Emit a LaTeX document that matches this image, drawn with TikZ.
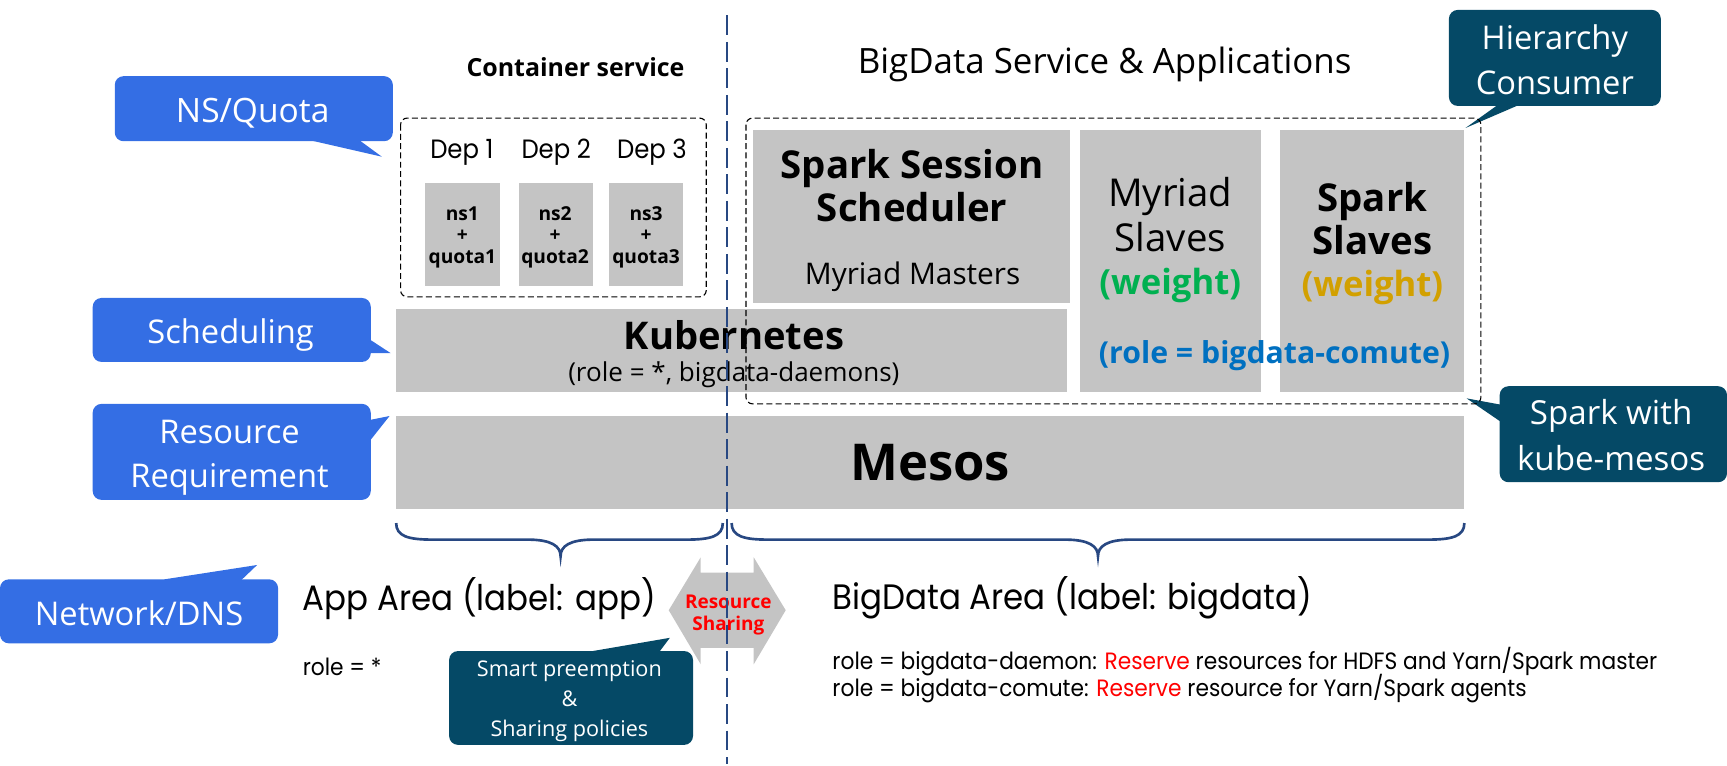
\documentclass[tikz,border=0pt]{standalone}
\usepackage{fontspec}
\setmainfont{Open Sans}
\newfontfamily\gothic{Poppins}[FakeStretch=0.92]
\definecolor{cblue}{RGB}{52,110,228}
\definecolor{cteal}{RGB}{5,73,102}
\definecolor{cgray}{RGB}{196,196,196}
\definecolor{cgreen}{RGB}{0,176,80}
\definecolor{cgold}{RGB}{210,160,0}
\definecolor{ctxtblue}{RGB}{0,112,192}
\definecolor{cnavy}{RGB}{40,72,130}
\newcommand\myfs[1]{\fontsize{#1}{#1}\selectfont}
\tikzset{
  graybox/.style={fill=cgray},
  dashbox/.style={draw=black, line width=0.5pt, dash pattern=on 2.7pt off 1.5pt, rounded corners=3pt},
  callA/.style={fill=cblue},
  callB/.style={fill=cteal},
  ctext/.style={text=white, inner sep=0pt, anchor=base},
  txt/.style={inner sep=0pt, anchor=base},
  ltxt/.style={inner sep=0pt, anchor=base west},
  divider/.style={draw=cnavy, line width=0.9pt, dash pattern=on 9pt off 3pt},
  bracepath/.style={draw=cnavy, line width=1.2pt},
}
\begin{document}
\begin{tikzpicture}[x=0.5pt,y=-0.5pt]
\useasboundingbox (0,0) rectangle (1565,694);

% ---------- callouts ----------
% NS/Quota
\fill[callA, rounded corners=4pt] (104,69) rectangle (356,128);
\fill[callA] (250,120) -- (346,142) -- (316,120) -- cycle;
\node[ctext, font=\myfs{15.2}] (nsq) at (229,111) {NS/Quota};
% Scheduling
\fill[callA, rounded corners=4pt] (84,270) rectangle (336,328);
\fill[callA] (328,303) -- (354,320) -- (328,320) -- cycle;
\node[ctext, font=\myfs{14.8}] (sched) at (209,311) {Scheduling};
% Resource Requirement
\fill[callA, rounded corners=4pt] (84,366) rectangle (336,453);
\fill[callA] (328,382) -- (353,377) -- (334,401) -- (328,401) -- cycle;
\node[ctext, font=\myfs{14.8}] (rr1) at (208,401.7) {Resource};
\node[ctext, font=\myfs{14.8}] (rr2) at (208,442) {Requirement};
% Network/DNS
\fill[callA, rounded corners=4pt] (0,525) rectangle (252,583);
\fill[callA] (149,533) -- (149,525) -- (233,512) -- (211,533) -- cycle;
\node[ctext, font=\myfs{14.8}] (net) at (126,566.5) {Network/DNS};
% Hierarchy Consumer
\fill[callB, rounded corners=4pt] (1313,9) rectangle (1505,96);
\fill[callB] (1356,88) -- (1356,96) -- (1328,116) -- (1393,88) -- cycle;
\node[ctext, font=\myfs{14.8}] (hc1) at (1409,45) {Hierarchy};
\node[ctext, font=\myfs{14.8}] (hc2) at (1409,86) {Consumer};
% Spark with kube-mesos
\fill[callB, rounded corners=4pt] (1359,350) rectangle (1565,437);
\fill[callB] (1367,368) -- (1329,361) -- (1367,387) -- cycle;
\node[ctext, font=\myfs{15}] (sk1) at (1460,385) {Spark with};
\node[ctext, font=\myfs{15}] (sk2) at (1460,426) {kube-mesos};
% Smart preemption
\fill[callB, rounded corners=4pt] (407,590) rectangle (628,675);
\fill[callB] (537,598) -- (537,590) -- (607,578) -- (592,598) -- cycle;

% ---------- gray boxes ----------
\fill[graybox] (385,166) rectangle (453,259);
\fill[graybox] (470,166) rectangle (537,259);
\fill[graybox] (552,166) rectangle (619,259);
\fill[graybox] (359,280) rectangle (967,355);
\fill[graybox] (682,118) rectangle (970,275);
\fill[graybox] (979,118) rectangle (1143,355);
\fill[graybox] (1160,118) rectangle (1327,355);
\fill[graybox] (359,377) rectangle (1327,461);

% ---------- double arrow ----------
\fill[graybox] (606,553) -- (635,505) -- (635,519) -- (683,519) -- (683,505)
  -- (712,553) -- (683,602) -- (683,587) -- (635,587) -- (635,602) -- cycle;

% ---------- dashed boxes ----------
\draw[dashbox] (363,107) rectangle (640,269);
\draw[dashbox] (676,107) rectangle (1342,366);

% ---------- texts ----------
\node[txt, font=\bfseries\myfs{11.3}] (cs) at (521.5,69) {Container service};
\node[txt, font=\myfs{15.8}] (bds) at (1001,67) {BigData Service \& Applications};

\node[txt, font=\gothic\myfs{12}] (d1) at (418.5,143.5) {Dep 1};
\node[txt, font=\gothic\myfs{12}] (d2) at (504,143.5) {Dep 2};
\node[txt, font=\gothic\myfs{12}] (d3) at (590.8,143.5) {Dep 3};

\foreach \i/\x in {1/419,2/503,3/585.5}{
  \node[txt, font=\bfseries\myfs{8.7}] (ns\i) at (\x,199.4) {ns\i};
  \node[txt, font=\bfseries\myfs{8.7}] (pl\i) at (\x,219) {+};
  \node[txt, font=\bfseries\myfs{8.7}] (q\i) at (\x,238.6) {quota\i};
}

\node[txt, font=\bfseries\myfs{17.3}] (kube) at (665,317) {Kubernetes};
\node[txt, font=\myfs{11.8}] (kuberole) at (665,346) {(role = *, bigdata-daemons)};

\node[txt, font=\bfseries\myfs{17.4}] (ss1) at (826.5,161.6) {Spark Session};
\node[txt, font=\bfseries\myfs{17.4}] (ss2) at (826.5,201) {Scheduler};
\node[txt, font=\myfs{13.5}] (mm) at (827,258) {Myriad Masters};

\node[txt, font=\myfs{17.4}] (my1) at (1060.5,187) {Myriad};
\node[txt, font=\myfs{17.4}] (my2) at (1060.5,228) {Slaves};
\node[txt, font=\bfseries\myfs{15.7}, text=cgreen] (myw) at (1060.5,267) {(weight)};

\node[txt, font=\bfseries\myfs{17.4}] (sp1) at (1243.7,192) {Spark};
\node[txt, font=\bfseries\myfs{17.4}] (sp2) at (1243.7,231) {Slaves};
\node[txt, font=\bfseries\myfs{15.7}, text=cgold] (spw) at (1243.7,269) {(weight)};

\node[txt, font=\bfseries\myfs{13.7}, text=ctxtblue] (comute) at (1155,329) {(role = bigdata-comute)};

\node[txt, font=\bfseries\myfs{23}] (mesos) at (843,435) {Mesos};

\node[txt, font=\bfseries\myfs{8.6}, text=red] (rs1) at (660,551) {Resource};
\node[txt, font=\bfseries\myfs{8.6}, text=red] (rs2) at (660,571) {Sharing};

\node[ctext, font=\myfs{9.8}] (smp1) at (516,613) {Smart preemption};
\node[ctext, font=\myfs{9.8}] (smp2) at (516,640) {\&};
\node[ctext, font=\myfs{9.8}] (smp3) at (516,667) {Sharing policies};

\node[ltxt, font=\gothic\myfs{16}] (app) at (274,552.8) {App Area (label: app)};
\node[ltxt, font=\gothic\myfs{10.7}] (approle) at (274,611.7) {role = *};
\node[ltxt, font=\gothic\myfs{16}] (bda) at (754,552) {BigData Area (label: bigdata)};
\node[ltxt, font=\gothic\myfs{10.7}] (bdr1) at (754,607) {role = bigdata-daemon: \textcolor{red}{Reserve} resources for HDFS and Yarn/Spark master};
\node[ltxt, font=\gothic\myfs{10.7}] (bdr2) at (754,631) {role = bigdata-comute: \textcolor{red}{Reserve} resource for Yarn/Spark agents};

% ---------- braces ----------
\draw[bracepath] (359,474) .. controls (359,486) and (370,489) .. (392,489)
  -- (478,489) .. controls (500,489) and (508,495) .. (508,504)
  .. controls (508,495) and (516,489) .. (538,489)
  -- (622,489) .. controls (644,489) and (655,486) .. (655,474);
\draw[bracepath] (663,474) .. controls (663,486) and (674,489) .. (696,489)
  -- (965,489) .. controls (987,489) and (995,495) .. (995,504)
  .. controls (995,495) and (1003,489) .. (1025,489)
  -- (1294,489) .. controls (1316,489) and (1327,486) .. (1327,474);

% ---------- divider ----------
\coordinate (dtop) at (659,14);
\coordinate (dbot) at (659,692);
\draw[divider] (dtop) -- (dbot);
\end{tikzpicture}
\end{document}
